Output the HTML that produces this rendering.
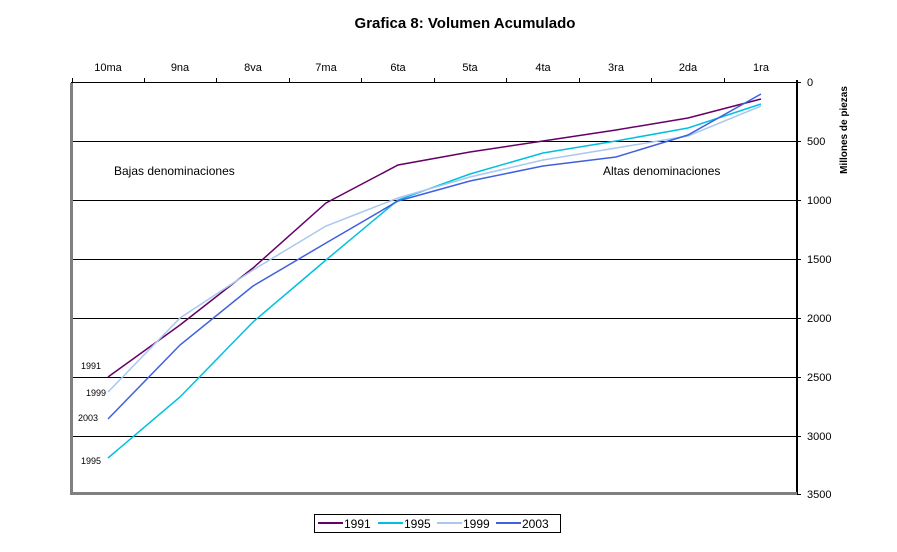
<!DOCTYPE html>
<html><head><style>
body{margin:0;background:#fff;font-family:"Liberation Sans",Arial,sans-serif}
</style></head><body>
<svg width="897" height="547" xmlns="http://www.w3.org/2000/svg" font-family="Liberation Sans, Arial, sans-serif">
<text x="465" y="28" font-size="15" font-weight="bold" text-anchor="middle">Grafica 8: Volumen Acumulado</text>
<g font-size="11" text-anchor="middle">
<text x="108" y="71">10ma</text><text x="180" y="71">9na</text><text x="253" y="71">8va</text><text x="326" y="71">7ma</text><text x="398" y="71">6ta</text><text x="470" y="71">5ta</text><text x="543" y="71">4ta</text><text x="616" y="71">3ra</text><text x="688" y="71">2da</text><text x="761" y="71">1ra</text>
</g>
<g stroke="#000" stroke-width="1" shape-rendering="crispEdges">
<line x1="71" y1="82.5" x2="797" y2="82.5"/>
<line x1="72.5" y1="78" x2="72.5" y2="82"/><line x1="144.5" y1="78" x2="144.5" y2="82"/><line x1="216.5" y1="78" x2="216.5" y2="82"/><line x1="289.5" y1="78" x2="289.5" y2="82"/><line x1="361.5" y1="78" x2="361.5" y2="82"/><line x1="434.5" y1="78" x2="434.5" y2="82"/><line x1="506.5" y1="78" x2="506.5" y2="82"/><line x1="579.5" y1="78" x2="579.5" y2="82"/><line x1="651.5" y1="78" x2="651.5" y2="82"/><line x1="724.5" y1="78" x2="724.5" y2="82"/>
<line x1="71" y1="141.5" x2="801" y2="141.5"/><line x1="71" y1="200.5" x2="801" y2="200.5"/><line x1="71" y1="259.5" x2="801" y2="259.5"/><line x1="71" y1="318.5" x2="801" y2="318.5"/><line x1="71" y1="377.5" x2="801" y2="377.5"/><line x1="71" y1="436.5" x2="801" y2="436.5"/>
<line x1="797" y1="82.5" x2="801" y2="82.5"/><line x1="797" y1="494.5" x2="801" y2="494.5"/>
</g>
<line x1="797" y1="80" x2="797" y2="495" stroke="#000" stroke-width="2" shape-rendering="crispEdges"/>
<path d="M71.5 83 V493.5 H797" fill="none" stroke="#808080" stroke-width="3" shape-rendering="crispEdges"/>
<g font-size="11">
<text x="807" y="86">0</text><text x="807" y="145">500</text><text x="807" y="204">1000</text><text x="807" y="263">1500</text><text x="807" y="322">2000</text><text x="807" y="381">2500</text><text x="807" y="440">3000</text><text x="807" y="498">3500</text>
</g>
<text transform="translate(847,130) rotate(-90)" font-size="10" font-weight="bold" text-anchor="middle">Millones de piezas</text>
<text x="114" y="175" font-size="12">Bajas denominaciones</text>
<text x="603" y="175" font-size="12">Altas denominaciones</text>
<g font-size="9">
<text x="81" y="369">1991</text><text x="86" y="396">1999</text><text x="78" y="421">2003</text><text x="81" y="464">1995</text>
</g>
<g fill="none" stroke-width="1.5">
<polyline stroke="#660066" points="108,377 180,325 253,268 326,203 398,165 470,152 543,141 616,130 688,118 761,99"/>
<polyline stroke="#00c0e0" points="108,458 180,397 253,322 326,260 398,200 470,174 543,153 616,141 688,128 761,104"/>
<polyline stroke="#a8c8f0" points="108,392 180,318 253,270 326,226 398,198 470,177 543,160 616,148 688,136 761,106"/>
<polyline stroke="#4060e0" points="108,419 180,345 253,286 326,243 398,201 470,181 543,166 616,157 688,135 761,94"/>
</g>
<rect x="314.5" y="514.5" width="246" height="18" fill="none" stroke="#000"/>
<g stroke-width="2">
<line x1="318" y1="523" x2="343" y2="523" stroke="#660066"/>
<line x1="378" y1="523" x2="403" y2="523" stroke="#00c0e0"/>
<line x1="437" y1="523" x2="462" y2="523" stroke="#a8c8f0"/>
<line x1="496" y1="523" x2="521" y2="523" stroke="#4060e0"/>
</g>
<g font-size="12">
<text x="344" y="528">1991</text><text x="404" y="528">1995</text><text x="463" y="528">1999</text><text x="522" y="528">2003</text>
</g>
</svg>
</body></html>
